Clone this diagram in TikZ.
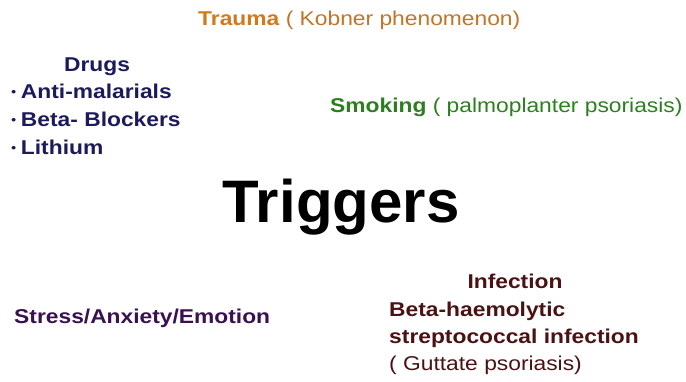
\documentclass[tikz,border=0pt]{standalone}
\usepackage{fontspec}
\setmainfont{Liberation Sans}
\definecolor{cTrauma}{HTML}{D07A1C}
\definecolor{cTraumaL}{HTML}{C27428}
\definecolor{cDrug}{HTML}{1B1B5C}
\definecolor{cSmoke}{HTML}{2C7F1E}
\definecolor{cStress}{HTML}{3A1150}
\definecolor{cInf}{HTML}{4A1212}
\newcommand{\smallbul}{{\fontsize{13}{13}\selectfont\raisebox{1.5pt}{\textbullet}}\hspace{4pt}}
\begin{document}
\begin{tikzpicture}[x=1pt,y=-1pt,
  lbl/.style={inner sep=0pt,anchor=base west,font=\fontsize{20}{24}\selectfont,xscale=1.14,transform shape}]
\useasboundingbox (0,0) rectangle (686,381);
\node[lbl,text=cTrauma] (trauma) at (198,25) {\textbf{Trauma} \textcolor{cTraumaL}{( Kobner phenomenon)}};
\node[lbl,text=cDrug,anchor=base] (drugs) at (97,71) {\textbf{Drugs}};
\node[lbl,text=cDrug] (d1) at (11,98) {\smallbul\textbf{Anti-malarials}};
\node[lbl,text=cDrug] (d2) at (11,126) {\smallbul\textbf{Beta- Blockers}};
\node[lbl,text=cDrug] (d3) at (11,154) {\smallbul\textbf{Lithium}};
\node[lbl,text=cSmoke] (smoke) at (330,112) {\textbf{Smoking} ( palmoplanter psoriasis)};
\node[inner sep=0pt,anchor=base,font=\fontsize{60}{70}\selectfont\bfseries] (trig) at (341,222) {Triggers};
\node[lbl,text=cStress] (stress) at (14,323) {\textbf{Stress/Anxiety/Emotion}};
\node[lbl,text=cInf,anchor=base] (inf) at (515,288) {\textbf{Infection}};
\node[lbl,text=cInf] (i1) at (389,316) {\textbf{Beta-haemolytic}};
\node[lbl,text=cInf] (i2) at (389,343) {\textbf{streptococcal infection}};
\node[lbl,text=cInf] (i3) at (389,370) {( Guttate psoriasis)};
\end{tikzpicture}
\end{document}
